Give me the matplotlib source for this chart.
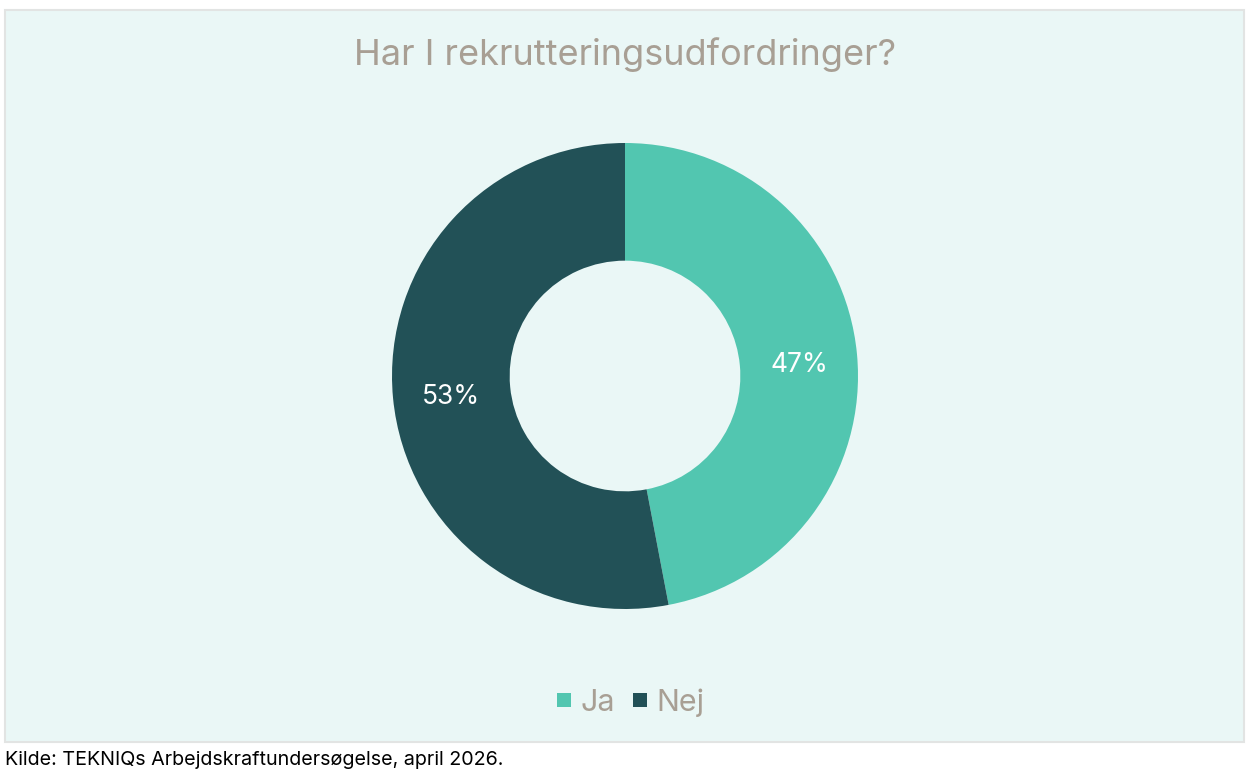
import matplotlib
matplotlib.use("Agg")
import matplotlib.pyplot as plt
import matplotlib.transforms as mtransforms
from matplotlib.patches import Rectangle

categories = ["Ja", "Nej"]
values = [47, 53]
colors = ["#52C6B0", "#225157"]
title = "Har I rekrutteringsudfordringer?"
source = "Kilde: TEKNIQs Arbejdskraftundersøgelse, april 2026."

plt.rcParams['font.family'] = ['Inter', 'DejaVu Sans']

W, H = 1249, 783
fig = plt.figure(figsize=(W/100, H/100), dpi=100)
fig.patch.set_facecolor("white")

# background panel
fig.patches.append(Rectangle((5/W, 1-742/H), (1244-5)/W, (742-10)/H,
                             transform=fig.transFigure, facecolor="#EAF7F6",
                             edgecolor="#E2E4E3", linewidth=1.5, zorder=-5))

# donut axes: center (625,376), radius 233
r = 233
ax = fig.add_axes([(625-r)/W, 1-(376+r)/H, 2*r/W, 2*r/H])
ax.set_zorder(3)
ax.patch.set_visible(False)
wedges, texts, autotexts = ax.pie(values, colors=colors, startangle=90, counterclock=False,
       radius=1, wedgeprops=dict(width=0.505, edgecolor="none"),
       autopct=lambda p: f"{p:.0f}%", pctdistance=0.75,
       textprops=dict(color="white", fontsize=19))
for t in autotexts:
    t.set_transform(t.get_transform() + mtransforms.ScaledTranslation(0, -5/100, fig.dpi_scale_trans))
ax.set_xlim(-1, 1); ax.set_ylim(-1, 1)
ax.set_aspect("equal")
ax.axis("off")

fig.text(625/W, 1-55/H, title, ha="center", va="center", fontsize=26, color="#A89F94")

# legend
fig.patches.append(Rectangle((557/W, 1-707/H), 14/W, 14/H, transform=fig.transFigure,
                             facecolor=colors[0], edgecolor="none", zorder=2))
fig.text(580/W, 1-703/H, categories[0], ha="left", va="center", fontsize=22, color="#A89F94")
fig.patches.append(Rectangle((633/W, 1-707/H), 14/W, 14/H, transform=fig.transFigure,
                             facecolor=colors[1], edgecolor="none", zorder=2))
fig.text(656/W, 1-703/H, categories[1], ha="left", va="center", fontsize=22, color="#A89F94")

fig.text(5/W, 1-760/H, source, ha="left", va="center", fontsize=14.2, color="black")

fig.savefig("out.png", dpi=100, facecolor="white")
